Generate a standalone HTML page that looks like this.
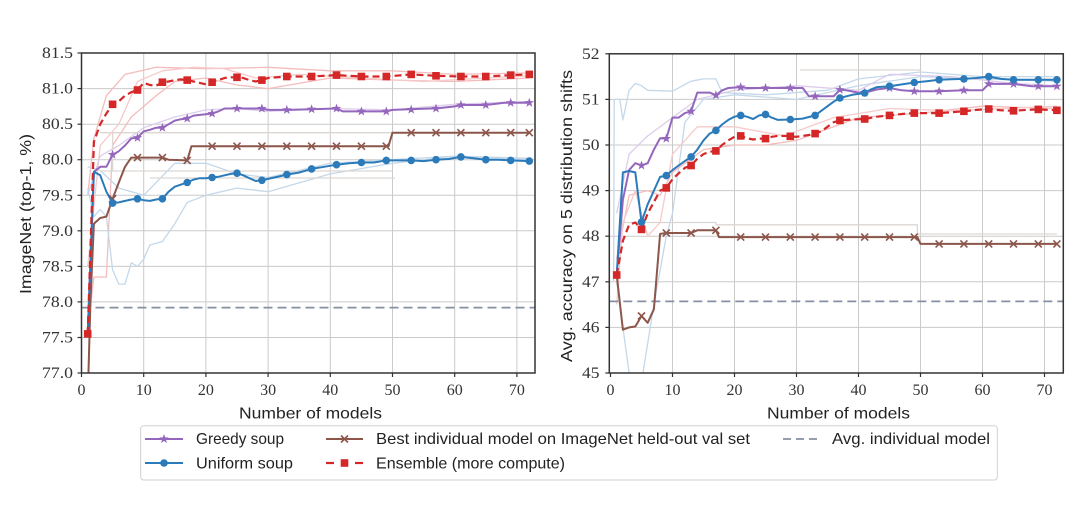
<!DOCTYPE html>
<html><head><meta charset="utf-8"><style>
html,body{margin:0;padding:0;background:#fff;}
svg{display:block;}
.tk{font-family:"Liberation Serif",serif;font-size:16px;fill:#333;}
.lb{font-family:"Liberation Sans",sans-serif;font-size:16px;fill:#222;}
.lg{font-family:"Liberation Sans",sans-serif;font-size:16px;fill:#222;}
</style></head><body>
<svg width="1080" height="506" viewBox="0 0 1080 506" xmlns="http://www.w3.org/2000/svg">
<defs>
<clipPath id="cL"><rect x="81.5" y="53" width="453.5" height="320"/></clipPath>
<clipPath id="cR"><rect x="609.3" y="53.8" width="454" height="319.2"/></clipPath>
<path id="st" d="M0,-5 L1.18,-1.62 L4.76,-1.55 L1.9,0.62 L2.94,4.05 L0,2 L-2.94,4.05 L-1.9,0.62 L-4.76,-1.55 L-1.18,-1.62 Z" fill="#9467bd"/>
<circle id="ci" r="3.8" fill="#2b7bba"/>
<rect id="sq" x="-3.8" y="-3.8" width="7.6" height="7.6" fill="#d62728"/>
<path id="xx" d="M-3.5,-3.5 L3.5,3.5 M-3.5,3.5 L3.5,-3.5" stroke="#8c564b" stroke-width="1.6" fill="none"/>
</defs>
<rect width="1080" height="506" fill="#fff"/>

<!-- ============ LEFT PLOT ============ -->
<g stroke="#cacaca" stroke-width="1">
<line x1="143.7" y1="53" x2="143.7" y2="373"/><line x1="205.9" y1="53" x2="205.9" y2="373"/><line x1="268.1" y1="53" x2="268.1" y2="373"/><line x1="330.3" y1="53" x2="330.3" y2="373"/><line x1="392.5" y1="53" x2="392.5" y2="373"/><line x1="454.7" y1="53" x2="454.7" y2="373"/><line x1="516.9" y1="53" x2="516.9" y2="373"/>
<line x1="81.5" y1="88.6" x2="535" y2="88.6"/><line x1="81.5" y1="124.2" x2="535" y2="124.2"/><line x1="81.5" y1="159.7" x2="535" y2="159.7"/><line x1="81.5" y1="195.3" x2="535" y2="195.3"/><line x1="81.5" y1="230.8" x2="535" y2="230.8"/><line x1="81.5" y1="266.4" x2="535" y2="266.4"/><line x1="81.5" y1="301.9" x2="535" y2="301.9"/><line x1="81.5" y1="337.5" x2="535" y2="337.5"/>
</g>
<g clip-path="url(#cL)" fill="none" stroke-width="1.3" stroke-linejoin="round">
<polyline stroke="#f4bcbc" points="87.7,195.3 93.9,138.4 106.4,95.7 125.0,74.4 156.1,67.3 205.9,68.7 268.1,67.3 330.3,70.8 392.5,70.8 454.7,74.4 529.3,73.0"/>
<polyline stroke="#f4bcbc" points="87.7,330.3 93.9,277.0 106.4,277.0 112.6,145.5 131.3,117.0 156.1,95.7 174.8,81.5 205.9,78.0 237.0,85.0 268.1,88.6 330.3,78.0 392.5,80.1 454.7,81.5 529.3,78.0"/>
<polyline stroke="#f6caca" points="87.7,266.4 100.2,145.5 118.8,124.2 137.5,81.5 162.4,70.8 193.5,67.3 224.6,68.7 255.7,78.0 299.2,74.4 361.4,78.0 423.6,81.5 485.8,78.0 529.3,75.8"/>
<polyline stroke="#c4d8ea" points="87.7,188.1 93.9,216.6 100.2,209.5 106.4,216.6 112.6,269.9 118.8,284.1 125.0,284.1 131.3,262.8 137.5,266.4 143.7,259.2 149.9,245.0 162.4,241.5 174.8,223.7 187.2,202.4 205.9,195.3 237.0,188.1 268.1,191.7 330.3,173.9 392.5,163.3 454.7,156.1 529.3,159.7"/>
<polyline stroke="#c4d8ea" points="87.7,166.8 100.2,170.4 118.8,188.1 143.7,195.3 174.8,163.3 205.9,163.3 237.0,173.9 268.1,177.5 330.3,163.3 392.5,159.7 454.7,156.1 529.3,158.3"/>
<polyline stroke="#dccdec" points="87.7,195.3 100.2,156.1 118.8,145.5 143.7,127.7 174.8,117.0 205.9,109.9 237.0,108.5 268.1,111.4 330.3,108.5 392.5,109.9 454.7,104.3 529.3,101.4"/>
<path stroke="#dcd6d2" d="M100,132.7 H392.5 M100,171 H392.5 M112.6,171 V132.7 M150,178 H395"/>
</g>
<g clip-path="url(#cL)" fill="none" stroke-linejoin="round">
<line x1="81.5" y1="307.6" x2="535" y2="307.6" stroke="#8590a2" stroke-width="1.8" stroke-dasharray="9,5"/>
<polyline stroke="#8c564b" stroke-width="2" points="87.7,400 90.5,300 93.9,223.7 100.2,218.0 106.4,216.6 112.6,198.8 118.8,182.5 125.0,166.8 131.3,157.6 162.4,157.6 168.6,159.7 187.2,160.4 191.5,146.2 388.5,146.2 392.5,132.7 529.3,132.7"/>
<polyline stroke="#9467bd" stroke-width="2" points="87.7,333.9 93.9,171.8 100.2,166.8 106.4,166.8 112.6,154.7 118.8,151.2 125.0,145.5 131.3,138.4 137.5,137.7 143.7,131.3 149.9,129.8 156.1,127.7 162.4,127.7 168.6,124.2 174.8,120.6 181.0,119.2 187.2,118.5 193.5,115.6 199.7,114.9 205.9,114.2 212.1,113.5 218.3,111.4 224.6,108.5 261.9,108.5 268.1,109.9 286.8,109.9 311.6,109.2 336.5,108.5 342.7,111.4 386.3,111.4 392.5,109.9 429.8,108.5 436.0,108.5 454.7,106.4 460.9,105.0 485.8,105.0 504.5,102.8 529.3,102.8"/>
<polyline stroke="#2b7bba" stroke-width="2" points="87.7,333.9 93.9,171.8 100.2,175.3 106.4,191.7 112.6,203.1 118.8,202.4 125.0,200.9 131.3,199.5 137.5,198.8 143.7,200.2 149.9,200.9 156.1,199.5 162.4,198.8 168.6,191.7 174.8,186.7 181.0,184.6 187.2,182.5 193.5,179.6 199.7,178.2 205.9,178.2 212.1,177.5 218.3,176.8 224.6,175.3 230.8,173.9 237.0,173.2 243.2,175.3 249.4,178.2 255.7,181.0 261.9,180.3 268.1,178.9 274.3,177.5 280.5,176.1 286.8,174.6 299.2,172.5 311.6,168.9 324.1,166.8 336.5,164.7 349.0,163.3 361.4,162.5 373.8,162.5 386.3,160.4 398.7,160.4 411.2,160.4 423.6,161.1 436.0,159.7 448.5,159.0 460.9,156.9 473.4,158.3 485.8,159.7 498.2,159.7 510.7,160.4 529.3,161.1"/>
<polyline stroke="#d62728" stroke-width="2.2" stroke-dasharray="7,4" points="87.7,333.9 93.9,141.9 100.2,124.2 106.4,113.5 112.6,104.3 118.8,101.4 125.0,95.7 131.3,92.2 137.5,90.0 143.7,82.9 149.9,85.0 156.1,85.8 162.4,82.2 168.6,81.5 174.8,80.1 181.0,79.4 187.2,80.1 193.5,81.5 199.7,82.9 205.9,84.3 212.1,82.2 218.3,80.1 224.6,78.0 230.8,77.3 237.0,77.3 243.2,78.0 249.4,80.1 255.7,81.5 261.9,80.1 268.1,78.0 286.8,76.5 311.6,76.5 336.5,75.1 361.4,76.5 386.3,76.5 411.2,74.4 436.0,75.8 460.9,76.5 485.8,76.5 510.7,75.1 529.3,74.4"/>
</g>
<g>
<use href="#xx" x="112.6" y="198.8"/><use href="#xx" x="137.5" y="157.6"/><use href="#xx" x="162.4" y="157.6"/><use href="#xx" x="187.2" y="160.4"/><use href="#xx" x="212.1" y="146.2"/><use href="#xx" x="237.0" y="146.2"/><use href="#xx" x="261.9" y="146.2"/><use href="#xx" x="286.8" y="146.2"/><use href="#xx" x="311.6" y="146.2"/><use href="#xx" x="336.5" y="146.2"/><use href="#xx" x="361.4" y="146.2"/><use href="#xx" x="386.3" y="146.2"/><use href="#xx" x="411.2" y="132.7"/><use href="#xx" x="436.0" y="132.7"/><use href="#xx" x="460.9" y="132.7"/><use href="#xx" x="485.8" y="132.7"/><use href="#xx" x="510.7" y="132.7"/><use href="#xx" x="529.3" y="132.7"/>
<use href="#st" x="112.6" y="154.7"/><use href="#st" x="137.5" y="137.7"/><use href="#st" x="162.4" y="127.7"/><use href="#st" x="187.2" y="118.5"/><use href="#st" x="212.1" y="113.5"/><use href="#st" x="237.0" y="108.5"/><use href="#st" x="261.9" y="108.5"/><use href="#st" x="286.8" y="109.9"/><use href="#st" x="311.6" y="109.2"/><use href="#st" x="336.5" y="108.5"/><use href="#st" x="361.4" y="111.4"/><use href="#st" x="386.3" y="111.4"/><use href="#st" x="411.2" y="109.6"/><use href="#st" x="436.0" y="108.5"/><use href="#st" x="460.9" y="105.0"/><use href="#st" x="485.8" y="105.0"/><use href="#st" x="510.7" y="102.8"/><use href="#st" x="529.3" y="102.8"/>
<use href="#ci" x="112.6" y="203.1"/><use href="#ci" x="137.5" y="198.8"/><use href="#ci" x="162.4" y="198.8"/><use href="#ci" x="187.2" y="182.5"/><use href="#ci" x="212.1" y="177.5"/><use href="#ci" x="237.0" y="173.2"/><use href="#ci" x="261.9" y="180.3"/><use href="#ci" x="286.8" y="174.6"/><use href="#ci" x="311.6" y="168.9"/><use href="#ci" x="336.5" y="164.7"/><use href="#ci" x="361.4" y="162.5"/><use href="#ci" x="386.3" y="160.4"/><use href="#ci" x="411.2" y="160.4"/><use href="#ci" x="436.0" y="159.7"/><use href="#ci" x="460.9" y="156.9"/><use href="#ci" x="485.8" y="159.7"/><use href="#ci" x="510.7" y="160.4"/><use href="#ci" x="529.3" y="161.1"/>
<use href="#sq" x="87.7" y="333.9"/><use href="#sq" x="112.6" y="104.3"/><use href="#sq" x="137.5" y="90.0"/><use href="#sq" x="162.4" y="82.2"/><use href="#sq" x="187.2" y="80.1"/><use href="#sq" x="212.1" y="82.2"/><use href="#sq" x="237.0" y="77.3"/><use href="#sq" x="261.9" y="80.1"/><use href="#sq" x="286.8" y="76.5"/><use href="#sq" x="311.6" y="76.5"/><use href="#sq" x="336.5" y="75.1"/><use href="#sq" x="361.4" y="76.5"/><use href="#sq" x="386.3" y="76.5"/><use href="#sq" x="411.2" y="74.4"/><use href="#sq" x="436.0" y="75.8"/><use href="#sq" x="460.9" y="76.5"/><use href="#sq" x="485.8" y="76.5"/><use href="#sq" x="510.7" y="75.1"/><use href="#sq" x="529.3" y="74.4"/>
</g>
<rect x="81.5" y="53" width="453.5" height="320" fill="none" stroke="#333" stroke-width="1.5"/>
<g stroke="#333" stroke-width="1.2">
<line x1="81.5" y1="373" x2="81.5" y2="377"/><line x1="143.7" y1="373" x2="143.7" y2="377"/><line x1="205.9" y1="373" x2="205.9" y2="377"/><line x1="268.1" y1="373" x2="268.1" y2="377"/><line x1="330.3" y1="373" x2="330.3" y2="377"/><line x1="392.5" y1="373" x2="392.5" y2="377"/><line x1="454.7" y1="373" x2="454.7" y2="377"/><line x1="516.9" y1="373" x2="516.9" y2="377"/>
<line x1="77.5" y1="53" x2="81.5" y2="53"/><line x1="77.5" y1="88.6" x2="81.5" y2="88.6"/><line x1="77.5" y1="124.2" x2="81.5" y2="124.2"/><line x1="77.5" y1="159.7" x2="81.5" y2="159.7"/><line x1="77.5" y1="195.3" x2="81.5" y2="195.3"/><line x1="77.5" y1="230.8" x2="81.5" y2="230.8"/><line x1="77.5" y1="266.4" x2="81.5" y2="266.4"/><line x1="77.5" y1="301.9" x2="81.5" y2="301.9"/><line x1="77.5" y1="337.5" x2="81.5" y2="337.5"/><line x1="77.5" y1="373" x2="81.5" y2="373"/>
</g>
<g class="tk">
<text x="42" y="58" textLength="31" lengthAdjust="spacingAndGlyphs">81.5</text><text x="42" y="93.6" textLength="31" lengthAdjust="spacingAndGlyphs">81.0</text><text x="42" y="129.2" textLength="31" lengthAdjust="spacingAndGlyphs">80.5</text><text x="42" y="164.7" textLength="31" lengthAdjust="spacingAndGlyphs">80.0</text><text x="42" y="200.3" textLength="31" lengthAdjust="spacingAndGlyphs">79.5</text><text x="42" y="235.8" textLength="31" lengthAdjust="spacingAndGlyphs">79.0</text><text x="42" y="271.4" textLength="31" lengthAdjust="spacingAndGlyphs">78.5</text><text x="42" y="306.9" textLength="31" lengthAdjust="spacingAndGlyphs">78.0</text><text x="42" y="342.5" textLength="31" lengthAdjust="spacingAndGlyphs">77.5</text><text x="42" y="378" textLength="31" lengthAdjust="spacingAndGlyphs">77.0</text>
</g>
<g class="tk" text-anchor="middle">
<text x="81.5" y="395">0</text><text x="143.7" y="395">10</text><text x="205.9" y="395">20</text><text x="268.1" y="395">30</text><text x="330.3" y="395">40</text><text x="392.5" y="395">50</text><text x="454.7" y="395">60</text><text x="516.9" y="395">70</text>
</g>
<text class="lb" x="239" y="418.5" textLength="143" lengthAdjust="spacingAndGlyphs">Number of models</text>
<text class="lb" transform="translate(31,214) rotate(-90)" text-anchor="middle" textLength="160" lengthAdjust="spacingAndGlyphs">ImageNet (top-1, %)</text>

<!-- ============ RIGHT PLOT ============ -->
<g stroke="#cacaca" stroke-width="1">
<line x1="672.5" y1="53.8" x2="672.5" y2="373"/><line x1="734.5" y1="53.8" x2="734.5" y2="373"/><line x1="796.5" y1="53.8" x2="796.5" y2="373"/><line x1="858.5" y1="53.8" x2="858.5" y2="373"/><line x1="920.5" y1="53.8" x2="920.5" y2="373"/><line x1="982.5" y1="53.8" x2="982.5" y2="373"/><line x1="1044.5" y1="53.8" x2="1044.5" y2="373"/>
<line x1="609.3" y1="99.4" x2="1063.3" y2="99.4"/><line x1="609.3" y1="145.0" x2="1063.3" y2="145.0"/><line x1="609.3" y1="190.6" x2="1063.3" y2="190.6"/><line x1="609.3" y1="236.2" x2="1063.3" y2="236.2"/><line x1="609.3" y1="281.8" x2="1063.3" y2="281.8"/><line x1="609.3" y1="327.4" x2="1063.3" y2="327.4"/>
</g>
<g clip-path="url(#cR)" fill="none" stroke-width="1.3" stroke-linejoin="round">
<polyline stroke="#c4d8ea" points="613.6,281.8 614.2,99.4 619.8,99.4 622.9,119.9 629.1,90.3 635.3,83.4 641.5,85.7 647.7,90.3 672.5,91.2 691.1,81.2 703.5,78.9 715.9,78.9 722.1,92.6 765.5,94.8 827.5,90.3 858.5,78.9 920.5,72.0 982.5,76.6 1056.9,76.6"/>
<polyline stroke="#c4d8ea" points="616.7,281.8 629.1,373 641.5,382 653.9,304.6 666.3,236.2 672.5,213.4 684.9,122.2 703.5,99.4 734.5,94.8 796.5,99.4 858.5,85.7 920.5,76.6 982.5,78.9 1056.9,81.2"/>
<polyline stroke="#dccdec" points="616.7,213.4 629.1,154.1 647.7,135.9 672.5,117.6 697.3,99.4 734.5,90.3 796.5,85.7 858.5,90.3 889.5,74.3 951.5,76.6 1013.5,83.4 1056.9,85.7"/>
<polyline stroke="#f4bcbc" points="616.7,259.0 629.1,195.2 647.7,190.6 660.1,195.2 672.5,172.4 703.5,149.6 734.5,145.0 765.5,145.0 796.5,140.4 858.5,117.6 920.5,113.1 982.5,106.2 1056.9,108.5"/>
<polyline stroke="#f6caca" points="616.7,304.6 622.9,222.5 635.3,190.6 647.7,236.2 660.1,222.5 672.5,154.1 697.3,126.8 734.5,126.8 784.1,135.9 833.7,117.6 889.5,108.5 951.5,110.8 1056.9,106.2"/>
<path stroke="#dcd6d2" d="M622.9,222.5 H715.9 V224.8 H917.4 V234 H1056.9 M800,70 H920"/>
</g>
<g clip-path="url(#cR)" fill="none" stroke-linejoin="round">
<line x1="609.3" y1="301.4" x2="1063.3" y2="301.4" stroke="#8590a2" stroke-width="1.8" stroke-dasharray="9,5"/>
<polyline stroke="#8c564b" stroke-width="2" points="616.7,275.0 622.9,329.7 629.1,327.4 635.3,326.5 641.5,316.0 647.7,322.8 653.9,309.2 660.1,233.9 666.3,233.0 691.1,233.0 697.3,230.3 715.9,230.3 719,237.1 917.4,237.1 920.5,243.9 1056.9,243.9"/>
<polyline stroke="#9467bd" stroke-width="2" points="616.7,275.0 622.9,199.7 629.1,170.1 635.3,163.2 641.5,165.5 647.7,163.2 653.9,149.6 660.1,138.2 666.3,138.6 672.5,117.6 678.7,117.6 684.9,113.1 691.1,111.3 697.3,92.6 709.7,92.6 715.9,95.3 722.1,90.3 728.3,88.0 740.7,87.1 746.9,88.0 802.7,88.0 808.9,96.2 833.7,96.2 839.9,89.8 846.1,90.3 858.5,92.6 864.7,92.6 877.1,89.4 889.5,88.0 901.9,90.3 914.3,91.2 939.1,91.2 963.9,90.3 982.5,90.3 988.7,83.9 1013.5,83.9 1032.1,86.2 1056.9,86.2"/>
<polyline stroke="#2b7bba" stroke-width="2" points="616.7,275.0 622.9,172.4 629.1,171.0 635.3,172.4 641.5,222.1 647.7,204.3 653.9,190.6 660.1,176.9 666.3,175.6 672.5,170.1 678.7,165.5 684.9,161.0 691.1,156.9 697.3,149.6 703.5,140.4 709.7,133.6 715.9,130.4 722.1,124.5 728.3,119.9 734.5,116.7 740.7,115.4 746.9,116.7 753.1,119.0 759.3,115.4 765.5,114.4 771.7,117.6 777.9,119.9 790.3,119.5 802.7,118.6 815.1,115.4 821.3,110.8 827.5,106.2 833.7,101.7 839.9,98.0 852.3,94.8 864.7,93.0 870.9,89.4 877.1,87.1 889.5,86.2 901.9,84.4 914.3,82.5 926.7,81.2 939.1,79.8 951.5,79.3 963.9,78.9 976.3,78.0 988.7,76.6 1001.1,78.9 1013.5,79.8 1025.9,79.8 1038.3,79.8 1056.9,79.8"/>
<polyline stroke="#d62728" stroke-width="2.2" stroke-dasharray="7,4" points="616.7,275.0 622.9,240.8 629.1,224.8 635.3,222.5 641.5,229.4 647.7,213.4 653.9,202.0 660.1,190.6 666.3,187.9 672.5,179.2 678.7,173.3 684.9,167.8 691.1,165.5 697.3,158.7 703.5,154.1 709.7,151.8 715.9,150.9 722.1,145.0 728.3,140.4 734.5,136.8 740.7,135.9 746.9,138.2 753.1,139.5 759.3,138.6 765.5,138.6 771.7,136.8 777.9,135.9 784.1,135.9 790.3,136.3 796.5,136.8 802.7,135.9 808.9,135.0 815.1,133.6 821.3,131.3 827.5,126.8 833.7,122.2 839.9,120.4 852.3,119.5 864.7,119.0 877.1,116.7 889.5,115.4 901.9,114.0 914.3,113.1 926.7,113.1 939.1,113.1 951.5,112.2 963.9,111.3 976.3,109.9 988.7,109.0 1001.1,110.3 1013.5,110.8 1025.9,109.9 1038.3,109.4 1056.9,110.3"/>
</g>
<g>
<use href="#xx" x="641.5" y="316.0"/><use href="#xx" x="666.3" y="233.0"/><use href="#xx" x="691.1" y="233.0"/><use href="#xx" x="715.9" y="230.3"/><use href="#xx" x="740.7" y="237.1"/><use href="#xx" x="765.5" y="237.1"/><use href="#xx" x="790.3" y="237.1"/><use href="#xx" x="815.1" y="237.1"/><use href="#xx" x="839.9" y="237.1"/><use href="#xx" x="864.7" y="237.1"/><use href="#xx" x="889.5" y="237.1"/><use href="#xx" x="914.3" y="237.1"/><use href="#xx" x="939.1" y="243.9"/><use href="#xx" x="963.9" y="243.9"/><use href="#xx" x="988.7" y="243.9"/><use href="#xx" x="1013.5" y="243.9"/><use href="#xx" x="1038.3" y="243.9"/><use href="#xx" x="1056.9" y="243.9"/>
<use href="#st" x="641.5" y="165.5"/><use href="#st" x="666.3" y="138.6"/><use href="#st" x="691.1" y="111.3"/><use href="#st" x="715.9" y="95.3"/><use href="#st" x="740.7" y="87.1"/><use href="#st" x="765.5" y="88.0"/><use href="#st" x="790.3" y="88.0"/><use href="#st" x="815.1" y="96.2"/><use href="#st" x="839.9" y="89.8"/><use href="#st" x="864.7" y="92.6"/><use href="#st" x="889.5" y="88.0"/><use href="#st" x="914.3" y="91.2"/><use href="#st" x="939.1" y="91.2"/><use href="#st" x="963.9" y="90.3"/><use href="#st" x="988.7" y="83.9"/><use href="#st" x="1013.5" y="83.9"/><use href="#st" x="1038.3" y="86.2"/><use href="#st" x="1056.9" y="86.2"/>
<use href="#ci" x="641.5" y="222.1"/><use href="#ci" x="666.3" y="175.6"/><use href="#ci" x="691.1" y="156.9"/><use href="#ci" x="715.9" y="130.4"/><use href="#ci" x="740.7" y="115.4"/><use href="#ci" x="765.5" y="114.4"/><use href="#ci" x="790.3" y="119.5"/><use href="#ci" x="815.1" y="115.4"/><use href="#ci" x="839.9" y="98.0"/><use href="#ci" x="864.7" y="93.0"/><use href="#ci" x="889.5" y="86.2"/><use href="#ci" x="914.3" y="82.5"/><use href="#ci" x="939.1" y="79.8"/><use href="#ci" x="963.9" y="78.9"/><use href="#ci" x="988.7" y="76.6"/><use href="#ci" x="1013.5" y="79.8"/><use href="#ci" x="1038.3" y="79.8"/><use href="#ci" x="1056.9" y="79.8"/>
<use href="#sq" x="616.7" y="275.0"/><use href="#sq" x="641.5" y="229.4"/><use href="#sq" x="666.3" y="187.9"/><use href="#sq" x="691.1" y="165.5"/><use href="#sq" x="715.9" y="150.9"/><use href="#sq" x="740.7" y="135.9"/><use href="#sq" x="765.5" y="138.6"/><use href="#sq" x="790.3" y="136.3"/><use href="#sq" x="815.1" y="133.6"/><use href="#sq" x="839.9" y="120.4"/><use href="#sq" x="864.7" y="119.0"/><use href="#sq" x="889.5" y="115.4"/><use href="#sq" x="914.3" y="113.1"/><use href="#sq" x="939.1" y="113.1"/><use href="#sq" x="963.9" y="111.3"/><use href="#sq" x="988.7" y="109.0"/><use href="#sq" x="1013.5" y="110.8"/><use href="#sq" x="1038.3" y="109.4"/><use href="#sq" x="1056.9" y="110.3"/>
</g>
<rect x="609.3" y="53.8" width="454" height="319.2" fill="none" stroke="#333" stroke-width="1.5"/>
<g stroke="#333" stroke-width="1.2">
<line x1="610.5" y1="373" x2="610.5" y2="377"/><line x1="672.5" y1="373" x2="672.5" y2="377"/><line x1="734.5" y1="373" x2="734.5" y2="377"/><line x1="796.5" y1="373" x2="796.5" y2="377"/><line x1="858.5" y1="373" x2="858.5" y2="377"/><line x1="920.5" y1="373" x2="920.5" y2="377"/><line x1="982.5" y1="373" x2="982.5" y2="377"/><line x1="1044.5" y1="373" x2="1044.5" y2="377"/>
<line x1="605.3" y1="53.8" x2="609.3" y2="53.8"/><line x1="605.3" y1="99.4" x2="609.3" y2="99.4"/><line x1="605.3" y1="145.0" x2="609.3" y2="145.0"/><line x1="605.3" y1="190.6" x2="609.3" y2="190.6"/><line x1="605.3" y1="236.2" x2="609.3" y2="236.2"/><line x1="605.3" y1="281.8" x2="609.3" y2="281.8"/><line x1="605.3" y1="327.4" x2="609.3" y2="327.4"/><line x1="605.3" y1="373" x2="609.3" y2="373"/>
</g>
<g class="tk">
<text x="582" y="58.8" textLength="17.5" lengthAdjust="spacingAndGlyphs">52</text><text x="582" y="104.4" textLength="17.5" lengthAdjust="spacingAndGlyphs">51</text><text x="582" y="150" textLength="17.5" lengthAdjust="spacingAndGlyphs">50</text><text x="582" y="195.6" textLength="17.5" lengthAdjust="spacingAndGlyphs">49</text><text x="582" y="241.2" textLength="17.5" lengthAdjust="spacingAndGlyphs">48</text><text x="582" y="286.8" textLength="17.5" lengthAdjust="spacingAndGlyphs">47</text><text x="582" y="332.4" textLength="17.5" lengthAdjust="spacingAndGlyphs">46</text><text x="582" y="378" textLength="17.5" lengthAdjust="spacingAndGlyphs">45</text>
</g>
<g class="tk" text-anchor="middle">
<text x="610.5" y="395">0</text><text x="672.5" y="395">10</text><text x="734.5" y="395">20</text><text x="796.5" y="395">30</text><text x="858.5" y="395">40</text><text x="920.5" y="395">50</text><text x="982.5" y="395">60</text><text x="1044.5" y="395">70</text>
</g>
<text class="lb" x="767" y="418.5" textLength="143" lengthAdjust="spacingAndGlyphs">Number of models</text>
<text class="lb" transform="translate(572,216) rotate(-90)" text-anchor="middle" textLength="292" lengthAdjust="spacingAndGlyphs">Avg. accuracy on 5 distribution shifts</text>

<!-- ============ LEGEND ============ -->
<rect x="140.7" y="425.7" width="856.6" height="54.3" rx="3" fill="#fff" stroke="#d0d0d0" stroke-width="1"/>
<line x1="145" y1="439" x2="183" y2="439" stroke="#9467bd" stroke-width="2"/>
<use href="#st" x="164" y="439"/>
<text class="lg" x="196" y="444" textLength="88" lengthAdjust="spacingAndGlyphs">Greedy soup</text>
<line x1="145" y1="463" x2="183" y2="463" stroke="#2b7bba" stroke-width="2"/>
<use href="#ci" x="164" y="463"/>
<text class="lg" x="196" y="468.5" textLength="97" lengthAdjust="spacingAndGlyphs">Uniform soup</text>
<line x1="326" y1="439" x2="363" y2="439" stroke="#8c564b" stroke-width="2"/>
<use href="#xx" x="344.5" y="439"/>
<text class="lg" x="376" y="444" textLength="374" lengthAdjust="spacingAndGlyphs">Best individual model on ImageNet held-out val set</text>
<line x1="326" y1="463" x2="334" y2="463" stroke="#d62728" stroke-width="2.2"/>
<line x1="355" y1="463" x2="363" y2="463" stroke="#d62728" stroke-width="2.2"/>
<use href="#sq" x="344.5" y="463"/>
<text class="lg" x="376" y="468.5" textLength="189" lengthAdjust="spacingAndGlyphs">Ensemble (more compute)</text>
<line x1="783" y1="439" x2="817" y2="439" stroke="#8590a2" stroke-width="1.8" stroke-dasharray="8,5"/>
<text class="lg" x="832" y="444" textLength="158" lengthAdjust="spacingAndGlyphs">Avg. individual model</text>
</svg>
</body></html>
